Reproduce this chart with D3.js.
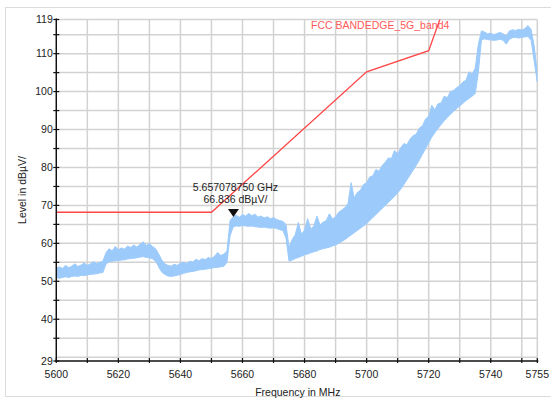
<!DOCTYPE html>
<html>
<head>
<meta charset="utf-8">
<script src="https://cdn.jsdelivr.net/npm/d3@7/dist/d3.min.js"></script>
<style>
  html, body { margin: 0; padding: 0; background: #fff; }
  svg { display: block; font-family: "Liberation Sans", Arial, Helvetica, sans-serif; }
</style>
</head>
<body>
<svg id="chart" width="551" height="399"></svg>
<script>
// Measured spectrum (1 MHz bins): min and max level of the sweep in each bin
const freqMHz = d3.range(5600, 5756, 1);
const levelMin = [
  51.0, 50.8, 51.0, 51.2, 51.0, 51.3, 51.4, 51.3, 51.6, 51.5,
  51.7, 51.8, 51.9, 52.0, 52.2, 52.3, 54.5, 55.2, 55.3, 55.4,
  55.5, 55.6, 55.7, 55.9, 56.0, 56.1, 56.2, 56.4, 56.5, 56.3,
  56.2, 55.9, 55.3, 53.8, 52.4, 51.8, 51.4, 51.3, 51.4, 51.6,
  51.8, 52.1, 52.3, 52.5, 52.6, 52.8, 53.0, 53.1, 53.2, 53.3,
  53.5, 53.6, 53.7, 53.8, 54.0, 55.0, 62.0, 64.3, 64.6, 64.5,
  64.7, 64.6, 64.5, 64.6, 64.4, 64.3, 64.2, 64.3, 64.1, 64.0,
  64.1, 63.9, 63.6, 63.4, 61.5, 55.3, 55.6, 56.0, 56.3, 56.6,
  57.0, 57.2, 57.5, 57.8, 58.0, 58.4, 58.6, 58.8, 59.0, 59.3,
  59.6, 60.0, 60.5, 61.0, 61.6, 62.2, 62.8, 63.4, 64.0, 64.6,
  65.2, 66.0, 66.8, 67.6, 68.4, 69.2, 70.0, 70.8, 71.6, 72.4,
  73.3, 74.3, 75.5, 76.8, 78.0, 79.3, 80.6, 82.0, 83.5, 85.0,
  86.5, 88.0, 89.2, 90.3, 91.3, 92.3, 93.2, 94.0, 94.8, 95.5,
  96.2, 96.9, 97.6, 98.2, 98.8, 99.5, 105.0, 113.6, 113.9, 113.7,
  113.6, 113.5, 113.6, 113.8, 113.5, 112.5, 113.8, 114.2, 114.3, 114.1,
  114.3, 114.4, 114.5, 113.5, 108.0, 102.5
];
const levelMax = [
  53.5, 53.8, 53.4, 54.2, 53.6, 54.0, 54.6, 53.9, 54.3, 54.8,
  54.2, 54.6, 55.2, 54.7, 55.0, 55.3, 57.5, 58.6, 58.0, 59.2,
  58.3, 58.8, 58.5, 59.3, 58.9, 59.6, 59.0, 59.8, 60.4, 59.5,
  59.9, 59.2, 58.6, 57.2, 55.6, 54.6, 54.2, 54.0, 54.5, 54.2,
  54.8, 55.0, 54.7, 55.3, 55.1, 55.8, 55.4, 56.0, 55.7, 56.3,
  56.0, 56.6, 57.6, 56.8, 57.2, 58.0, 66.0, 67.0, 67.4, 66.9,
  67.6, 67.2, 67.9, 67.3, 67.7, 66.9, 67.2, 66.7, 67.0, 66.5,
  66.8, 66.3, 66.0, 65.8, 65.0, 59.0, 61.0, 62.3, 65.5, 62.4,
  63.5, 66.5, 63.8, 64.6, 67.2, 64.8, 65.6, 66.0, 67.8, 66.4,
  67.0, 68.2, 68.8, 69.4, 70.5, 76.0, 72.0, 73.4, 74.0, 75.5,
  76.0, 77.5, 77.8, 79.5, 79.0, 80.5, 81.4, 82.5, 82.4, 84.5,
  83.6, 85.2, 86.3, 86.0, 87.5, 88.4, 88.8, 90.4, 91.0, 92.8,
  93.5, 96.4, 95.2, 96.8, 97.0, 98.8, 98.4, 100.0, 100.3, 101.0,
  101.6, 102.5, 103.0, 105.2, 104.6, 106.2, 112.5, 116.0, 115.7, 115.2,
  115.4, 115.0, 115.3, 115.6, 115.2, 114.6, 116.0, 116.3, 116.1, 116.4,
  116.2, 116.6, 117.4, 116.4, 112.0, 105.0
];

// FCC 15.407 band-edge limit line (MHz, dBµV)
const limitFreq = [5600, 5650, 5700, 5720, 5725];
const limitLevel = [68.2, 68.2, 105.2, 110.8, 122.2];
const limitName = "FCC BANDEDGE_5G_band4";

// Marker
const markerFreq = 5657.07875;
const markerLevel = 66.836;
const markerLines = ["5.657078750 GHz", "66.836 dBµV/"];

// Axis ticks
const xTicks = [5600, 5610, 5620, 5630, 5640, 5650, 5660, 5670, 5680, 5690, 5700, 5710, 5720, 5730, 5740, 5750, 5755];
const xLabels = [5600, 5620, 5640, 5660, 5680, 5700, 5720, 5740, 5755];
const yLabels = [29, 40, 50, 60, 70, 80, 90, 100, 110, 119];
const yMinor = [35, 45, 55, 65, 75, 85, 95, 105, 115];
const yGrid = [30, 35, 40, 45, 50, 55, 60, 65, 70, 75, 80, 85, 90, 95, 100, 105, 110, 115, 119];

const svg = d3.select("#chart");
const x = d3.scaleLinear().domain([5600, 5755]).range([56.3, 537.3]);
const y = d3.scaleLinear().domain([29, 119]).range([361, 19.5]);
const [x0, x1] = x.range();
const [yb, yt] = y.range();

// outer frame
svg.append("rect").attr("x", 5.5).attr("y", 7.5).attr("width", 560).attr("height", 389)
  .attr("fill", "none").attr("stroke", "#dcdcdc").attr("stroke-width", 1);

svg.append("clipPath").attr("id", "plot").append("rect")
  .attr("x", x0).attr("y", yt).attr("width", x1 - x0).attr("height", yb - yt);

// grid
const grid = svg.append("g").attr("stroke", "#d2d2d2").attr("stroke-width", 1.5);
grid.selectAll("line.v").data(xTicks).join("line").attr("class", "v")
  .attr("x1", d => x(d)).attr("x2", d => x(d)).attr("y1", yt).attr("y2", yb);
grid.selectAll("line.h").data(yGrid).join("line").attr("class", "h")
  .attr("x1", x0).attr("x2", x1).attr("y1", d => y(d)).attr("y2", d => y(d));

const plot = svg.append("g").attr("clip-path", "url(#plot)");

// limit line
plot.append("path")
  .datum(limitFreq.map((f, i) => [f, limitLevel[i]]))
  .attr("fill", "none").attr("stroke", "#ff4545").attr("stroke-width", 1.3)
  .attr("d", d3.line().x(d => x(d[0])).y(d => y(d[1])));

// measured trace as a min/max band
const trace = freqMHz.map((f, i) => ({ f, lo: levelMin[i], hi: levelMax[i] }));
plot.append("path").datum(trace)
  .attr("fill", "#9ccbfb").attr("stroke", "#9ccbfb").attr("stroke-width", 1)
  .attr("stroke-linejoin", "round")
  .attr("d", d3.area().x(d => x(d.f)).y0(d => y(d.lo)).y1(d => y(d.hi)));

// limit name
svg.append("text").attr("x", 311).attr("y", 29).attr("fill", "#ff5a5a")
  .attr("font-size", "10.5px").text(limitName);

// axes
const yAxis = svg.append("g").attr("transform", `translate(${x0},0)`);
yAxis.append("line").attr("x1", 0).attr("x2", 0).attr("y1", yt - 1).attr("y2", yb + 1)
  .attr("stroke", "#111").attr("stroke-width", 1.4);
yAxis.selectAll("line.t").data(yLabels.concat(yMinor)).join("line").attr("class", "t")
  .attr("x1", -3).attr("x2", 3).attr("y1", d => y(d)).attr("y2", d => y(d))
  .attr("stroke", "#111").attr("stroke-width", 1.2);
yAxis.selectAll("text").data(yLabels).join("text")
  .attr("x", -3.5).attr("y", d => y(d) + 3.8).attr("text-anchor", "end")
  .attr("font-size", "10.5px").attr("fill", "#222").text(d => d);

const xAxis = svg.append("g").attr("transform", `translate(0,${yb})`);
xAxis.append("line").attr("x1", x0 - 1).attr("x2", x1 + 1).attr("y1", 0).attr("y2", 0)
  .attr("stroke", "#111").attr("stroke-width", 1.4);
xAxis.selectAll("line.t").data(xTicks).join("line").attr("class", "t")
  .attr("x1", d => x(d)).attr("x2", d => x(d)).attr("y1", -3).attr("y2", 2)
  .attr("stroke", "#111").attr("stroke-width", 1.2);
xAxis.selectAll("text").data(xLabels).join("text")
  .attr("x", d => x(d)).attr("y", 17).attr("text-anchor", "middle")
  .attr("font-size", "10.5px").attr("fill", "#222").text(d => d);

// axis titles
svg.append("text").attr("x", (x0 + x1) / 2 + 1).attr("y", 396).attr("text-anchor", "middle")
  .attr("font-size", "10.5px").attr("fill", "#222").text("Frequency in MHz");
svg.append("text").attr("transform", "translate(26,190) rotate(-90)").attr("text-anchor", "middle")
  .attr("font-size", "10.5px").attr("fill", "#222").text("Level in dBµV/");

// marker
const mx = x(markerFreq), my = y(markerLevel);
svg.append("path").attr("d", `M${mx - 5.5},${my - 8.5}L${mx + 5.5},${my - 8.5}L${mx},${my - 0.5}Z`)
  .attr("fill", "#111");
svg.selectAll("text.m").data(markerLines).join("text").attr("class", "m")
  .attr("x", mx + 2).attr("y", (d, i) => 190.5 + i * 12.5).attr("text-anchor", "middle")
  .attr("font-size", "10.5px").attr("fill", "#222").text(d => d);
</script>
</body>
</html>
